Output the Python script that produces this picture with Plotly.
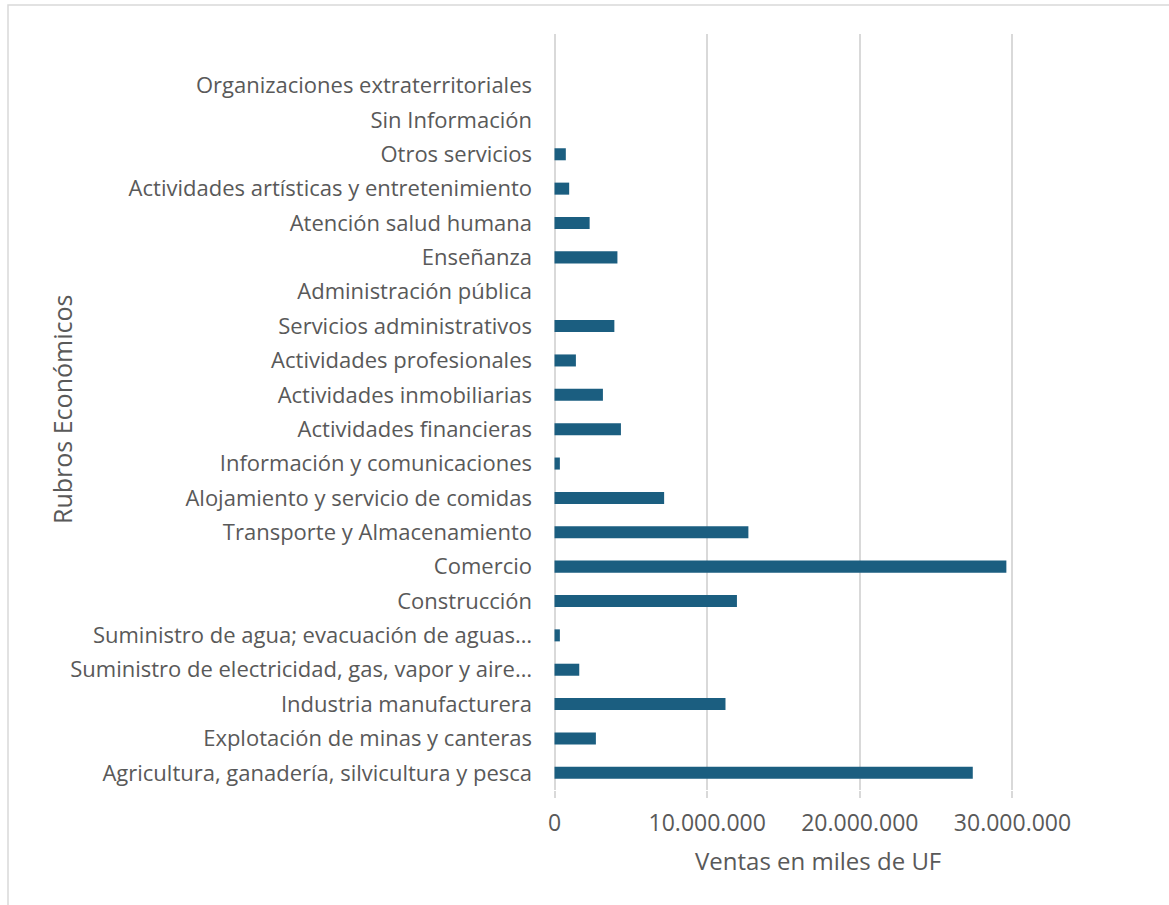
import plotly.graph_objects as go

# Sectores económicos (de abajo hacia arriba) y ventas en miles de UF
rubros = [
    "Agricultura, ganadería, silvicultura y pesca",
    "Explotación de minas y canteras",
    "Industria manufacturera",
    "Suministro de electricidad, gas, vapor y aire…",
    "Suministro de agua; evacuación de aguas…",
    "Construcción",
    "Comercio",
    "Transporte y Almacenamiento",
    "Alojamiento y servicio de comidas",
    "Información y comunicaciones",
    "Actividades financieras",
    "Actividades inmobiliarias",
    "Actividades profesionales",
    "Servicios administrativos",
    "Administración pública",
    "Enseñanza",
    "Atención salud humana",
    "Actividades artísticas y entretenimiento",
    "Otros servicios",
    "Sin Información",
    "Organizaciones extraterritoriales",
]
ventas = [
    27400000, 2710000, 11200000, 1620000, 350000, 11950000, 29600000,
    12700000, 7180000, 350000, 4350000, 3170000, 1400000, 3920000,
    0, 4120000, 2300000, 960000, 740000, 0, 0,
]
x_ticks = [0, 10000000, 20000000, 30000000]
x_tick_text = ["0", "10.000.000", "20.000.000", "30.000.000"]

FONT = "Open Sans"
GREY = "#595959"

fig = go.Figure(
    go.Bar(
        x=ventas,
        y=rubros,
        orientation="h",
        marker=dict(color="#1b5e80", line=dict(width=0)),
    )
)

L, R, T, B = 553, 155, 34, 115
W, H = 1169, 905
pw = W - L - R
ph = H - T - B

fig.update_layout(
    width=W,
    height=H,
    margin=dict(l=L, r=R, t=T, b=B, pad=0),
    paper_bgcolor="white",
    plot_bgcolor="white",
    bargap=0.65,
    showlegend=False,
    font=dict(family=FONT, size=22, color=GREY),
    xaxis=dict(
        range=[-100000, 30100000],
        tickvals=x_ticks,
        ticktext=x_tick_text,
        showgrid=True,
        gridcolor="#d9d9d9",
        gridwidth=2,
        zeroline=False,
        showline=False,
        ticks="outside",
        ticklen=7,
        tickwidth=2,
        tickcolor="#d9d9d9",
        ticklabelstandoff=5,
        tickfont=dict(family=FONT, size=23, color=GREY),
        fixedrange=True,
    ),
    yaxis=dict(
        type="category",
        categoryorder="array",
        categoryarray=rubros,
        range=[-0.5, len(rubros) + 0.5],
        showgrid=False,
        zeroline=False,
        showline=False,
        ticks="",
        ticklabelstandoff=20,
        tickfont=dict(family=FONT, size=22, color=GREY),
        fixedrange=True,
    ),
    annotations=[
        dict(
            text="Ventas en miles de UF",
            xref="paper", yref="paper",
            x=(818 - L) / pw, y=(H - B - 860) / ph,
            xanchor="center", yanchor="middle",
            showarrow=False,
            font=dict(family=FONT, size=24, color=GREY),
        ),
        dict(
            text="Rubros Económicos",
            xref="paper", yref="paper",
            x=(62 - L) / pw, y=(H - B - 410) / ph,
            xanchor="center", yanchor="middle",
            textangle=-90,
            showarrow=False,
            font=dict(family=FONT, size=25, color=GREY),
        ),
    ],
    shapes=[
        dict(
            type="rect",
            xref="paper", yref="paper",
            x0=(8 - L) / pw, x1=2.0,
            y0=-0.5, y1=1 + (T - 5) / ph,
            line=dict(color="#d9d9d9", width=1.5),
            fillcolor="rgba(0,0,0,0)",
            layer="below",
        )
    ],
)

fig.write_html("out.html")
